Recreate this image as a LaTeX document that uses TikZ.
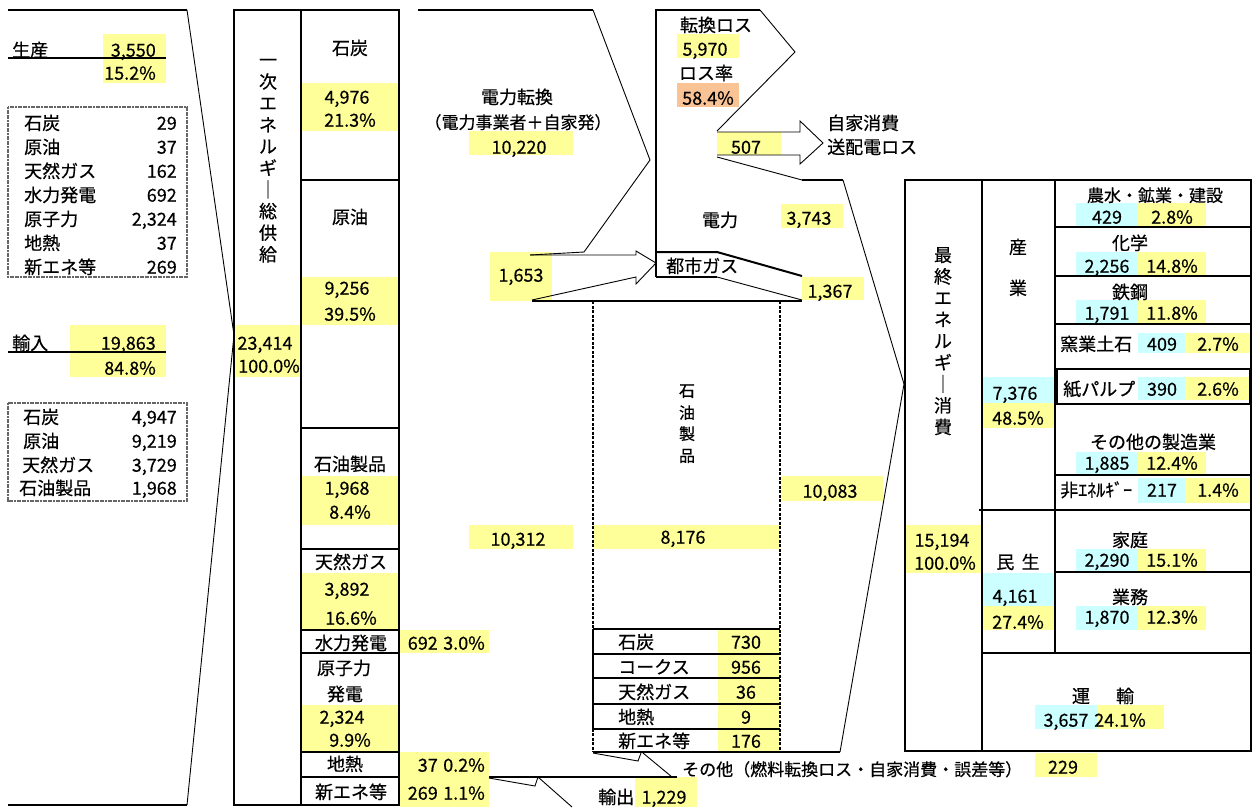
\documentclass[tikz,border=0pt]{standalone}
\usepackage{fontspec}
\setmainfont[FakeBold=0.5]{Noto Sans CJK JP}
\definecolor{yel}{HTML}{FFFF99}
\definecolor{cyn}{HTML}{CCFFFF}
\definecolor{org}{HTML}{F9C396}
\begin{document}
\begin{tikzpicture}[x=1pt,y=-1pt,
  lbl/.style={inner sep=0pt,text height=13.4pt,text depth=0pt,font=\fontsize{18}{20}\selectfont},
  lbs/.style={lbl,font=\fontsize{17}{20}\selectfont},
  lbv/.style={lbl,font=\fontsize{16}{20}\selectfont},
  thk/.style={line width=2pt},
  thn/.style={line width=0.9pt},
  dsh/.style={line width=1.6pt,dash pattern=on 3pt off 1.5pt},
  gbox/.style={draw=black!60,line width=1.5pt,dash pattern=on 2pt off 0.6pt},
]
\useasboundingbox (0,0) rectangle (1252,807);
% ---------- fills ----------
\fill[yel] (103,34) rectangle (166,83);
\fill[yel] (70,325) rectangle (166,377);
\fill[yel] (234,325) rectangle (300,377);
\fill[yel] (302,83) rectangle (398,131);
\fill[yel] (302,277) rectangle (398,325);
\fill[yel] (302,476) rectangle (398,525);
\fill[yel] (302,573) rectangle (398,630);
\fill[yel] (302,705) rectangle (398,752);
\fill[yel] (400,630) rectangle (489,653);
\fill[yel] (400,752) rectangle (489,777);
\fill[yel] (400,777) rectangle (489,807);
\fill[yel] (469,131) rectangle (573,155);
\fill[yel] (490,252) rectangle (552,301);
\fill[yel] (677,34) rectangle (739,58);
\fill[org] (677,83) rectangle (739,107);
\fill[yel] (717,132) rectangle (781,155);
\fill[yel] (781,204) rectangle (843,228);
\fill[yel] (802,277) rectangle (864,300);
\fill[yel] (781,476) rectangle (883,501);
\fill[yel] (469,525) rectangle (573,549);
\fill[yel] (594,525) rectangle (780,549);
\fill[yel] (718,629) rectangle (780,752);
\fill[yel] (1035,753) rectangle (1097,777);
\fill[yel] (635,777) rectangle (697,807);
\fill[yel] (905,525) rectangle (982,573);
\fill[cyn] (982,377) rectangle (1055,403);
\fill[yel] (982,403) rectangle (1055,428);
\fill[cyn] (982,573) rectangle (1055,606);
\fill[yel] (982,606) rectangle (1055,630);
\fill[cyn] (1076,203) rectangle (1138,227);
\fill[yel] (1138,203) rectangle (1206,227);
\fill[cyn] (1076,252) rectangle (1138,276);
\fill[yel] (1138,252) rectangle (1206,276);
\fill[cyn] (1076,300) rectangle (1138,324);
\fill[yel] (1138,300) rectangle (1206,324);
\fill[cyn] (1138,333) rectangle (1185,353);
\fill[yel] (1185,333) rectangle (1251,353);
\fill[cyn] (1138,377) rectangle (1185,400);
\fill[yel] (1185,377) rectangle (1249,400);
\fill[cyn] (1076,452) rectangle (1138,475);
\fill[yel] (1138,452) rectangle (1206,475);
\fill[cyn] (1138,478) rectangle (1185,503);
\fill[yel] (1185,478) rectangle (1251,503);
\fill[cyn] (1076,549) rectangle (1138,572);
\fill[yel] (1138,549) rectangle (1206,572);
\fill[cyn] (1076,606) rectangle (1138,630);
\fill[yel] (1138,606) rectangle (1206,630);
\fill[cyn] (1035,705) rectangle (1097,729);
\fill[yel] (1097,705) rectangle (1164,729);
% ---------- left part ----------
\draw[thk] (8,10) -- (187,10);
\draw[thk] (8,805) -- (187,805);
\draw[thn] (187,10) -- (234,335) -- (187,805);
\draw[thk] (8,58) -- (166,58);
\draw[thk] (8,352) -- (166,352);
\draw[gbox] (8,107) rectangle (187,277);
\draw[gbox] (8,403) rectangle (187,501);
% ---------- primary column ----------
\draw[thk] (234,10) rectangle (399,805);
\draw[thk] (301,10) -- (301,805);
\foreach \yy in {180,428,549,630,653,752,777} {\draw[thk] (301,\yy) -- (399,\yy);}
% ---------- power conversion ----------
\draw[thk] (418,10) -- (593,10);
\draw[thn] (593,10) -- (650,160) -- (584,252) -- (530,255);
\draw[thn] (530,255) -- (636,255) -- (636,251) -- (656,263) -- (636,284) -- (636,277) -- (532,300);
\draw[thk] (532,301) -- (802,301);
\draw[thk] (656,277) -- (656,10) -- (760,10);
\draw[thn] (760,10) -- (795,52) -- (717,131);
\draw[thn] (717,132) -- (800,132) -- (800,121) -- (823,143) -- (800,164) -- (800,155) -- (717,155);
\draw[thn] (717,157) -- (802,180);
\draw[thk] (802,180) -- (843,180);
\draw[thn] (843,180) -- (904,384) -- (840,752);
\draw[thk] (656,252) -- (717,252) -- (802,276);
\draw[thk] (656,277) -- (717,277);
\draw[thn] (717,277) -- (802,300);
% ---------- petroleum products ----------
\draw[dsh] (593,301) -- (593,752);
\draw[dsh] (780,301) -- (780,752);
\foreach \yy in {629,654,678,704,729} {\draw[thk] (593,\yy) -- (780,\yy);}
\draw[thk] (593,629) -- (593,729);
\draw[thk] (593,752) -- (840,752);
\draw[thn] (593,753) -- (638,761) -- (641,753);
\draw[thn] (643,753) -- (672,777);
\draw[thk] (489,777) -- (677,777);
\draw[thn] (489,778) -- (535,786) -- (538,777) -- (572,807);
% ---------- final consumption ----------
\draw[thk] (905,180) rectangle (1251,751);
\draw[thk] (982,180) -- (982,751);
\draw[thk] (1055,180) -- (1055,653);
\foreach \yy in {227,276,324,475,572} {\draw[thk] (1055,\yy) -- (1251,\yy);}
\draw[line width=2.6pt] (1057,369) rectangle (1250,404);
\draw[line width=1.2pt] (979,510) -- (1251,510);
\draw[thk] (982,653) -- (1251,653);
% ---------- texts: left ----------
\node[lbl,anchor=west] (seisan) at (12,50) {生産};
\node[lbl,anchor=east] (seisanv) at (156,50) {3,550};
\node[lbl,anchor=east] (seisanp) at (156,73) {15.2\%};
\foreach \nm/\vv/\yy [count=\i] in {石炭/29/123,原油/37/147,天然ガス/162/171,水力発電/692/195,原子力/{2,324}/219,地熱/37/243,新エネ等/269/267}
  {\node[lbl,anchor=west] (pa\i) at (24,\yy) {\nm};
   \node[lbl,anchor=east] (pb\i) at (177,\yy) {\vv};}
\node[lbl,anchor=west] (yunyu) at (12,343) {輸入};
\node[lbl,anchor=east] (yunyuv) at (156,343) {19,863};
\node[lbl,anchor=east] (yunyup) at (156,368) {84.8\%};
\foreach \nm/\vv/\yy/\xx [count=\i] in {石炭/{4,947}/417/23,原油/{9,219}/441/23,天然ガス/{3,729}/465/22,石油製品/{1,968}/488/19}
  {\node[lbl,anchor=west] (ia\i) at (\xx,\yy) {\nm};
   \node[lbl,anchor=east] (ib\i) at (177,\yy) {\vv};}
% ---------- texts: primary ----------
\foreach \c [count=\i] in {一,次,エ,ネ,ル,ギ,｜,総,供,給}
  {\node[lbl] (pv\i) at (268,{60+21.6*(\i-1)}) {\c};}
\node[lbl] (tot) at (265,343) {23,414};
\node[lbl] (totp) at (269,366) {100.0\%};
\node[lbl] (coal) at (350,48) {石炭};
\node[lbl] (coalv) at (347,97) {4,976};
\node[lbl] (coalp) at (350,120) {21.3\%};
\node[lbl] (oil) at (350,217) {原油};
\node[lbl] (oilv) at (347,288) {9,256};
\node[lbl] (oilp) at (350,314) {39.5\%};
\node[lbl] (prod) at (350,464) {石油製品};
\node[lbl] (prodv) at (347,488) {1,968};
\node[lbl] (prodp) at (350,512) {8.4\%};
\node[lbl] (gas) at (351,562) {天然ガス};
\node[lbl] (gasv) at (347,589) {3,892};
\node[lbl] (gasp) at (351,618) {16.6\%};
\node[lbl] (hydro) at (351,643) {水力発電};
\node[lbl] (nuc1) at (344,668) {原子力};
\node[lbl] (nuc2) at (345,694) {発電};
\node[lbl] (nucv) at (342,717) {2,324};
\node[lbl] (nucp) at (350,740) {9.9\%};
\node[lbl] (geo) at (345,764) {地熱};
\node[lbl] (new) at (351,792) {新エネ等};
\node[lbl,anchor=east] (hydv) at (438,643) {692};
\node[lbl,anchor=east] (hydp) at (485,643) {3.0\%};
\node[lbl,anchor=east] (geov) at (438,765) {37};
\node[lbl,anchor=east] (geop) at (485,765) {0.2\%};
\node[lbl,anchor=east] (newv) at (438,793) {269};
\node[lbl,anchor=east] (newp) at (485,793) {1.1\%};
% ---------- texts: power ----------
\node[lbl] (conv) at (517,97) {電力転換};
\node[lbs] (conv2) at (518,122) {（電力事業者＋自家発）};
\node[lbl] (convv) at (519,147) {10,220};
\node[lbl] (citv) at (521,275) {1,653};
\node[lbl] (loss) at (716,25) {転換ロス};
\node[lbl] (lossv) at (705,49) {5,970};
\node[lbl] (rate) at (706,73) {ロス率};
\node[lbl] (ratev) at (708,98) {58.4\%};
\node[lbl] (ownv) at (746,147) {507};
\node[lbl,anchor=west] (own1) at (827,123) {自家消費};
\node[lbl,anchor=west] (own2) at (827,147) {送配電ロス};
\node[lbl] (elec) at (720,220) {電力};
\node[lbl] (elecv) at (809,218) {3,743};
\node[lbl,anchor=west] (city) at (666,266) {都市ガス};
\node[lbl] (cityv) at (830,291) {1,367};
% ---------- texts: petroleum ----------
\foreach \c/\yy [count=\i] in {石/390,油/412,製/433,品/455}
  {\node[lbv] (sv\i) at (687,\yy) {\c};}
\node[lbl] (pin) at (518,539) {10,312};
\node[lbl] (pmid) at (683,537) {8,176};
\node[lbl] (pout) at (830,491) {10,083};
\foreach \nm/\vv/\yy [count=\i] in {石炭/730/642,コークス/956/667,天然ガス/36/692,地熱/9/717,新エネ等/176/741}
  {\node[lbl,anchor=west] (ra\i) at (618,\yy) {\nm};
   \node[lbl] (rb\i) at (746,\yy) {\vv};}
\node[lbs,anchor=west] (other) at (682,769) {その他（燃料転換ロス・自家消費・誤差等）};
\node[lbl] (otherv) at (1063,767) {229};
\node[lbl,anchor=west] (exp) at (598,797) {輸出};
\node[lbl] (expv) at (664,797) {1,229};
% ---------- texts: final ----------
\foreach \c [count=\i] in {最,終,エ,ネ,ル,ギ,｜,消,費}
  {\node[lbl] (fv\i) at (943,{255+21.5*(\i-1)}) {\c};}
\node[lbl] (fin) at (942,540) {15,194};
\node[lbl] (finp) at (945,563) {100.0\%};
\node[lbl] (ind1) at (1018,247) {産};
\node[lbl] (ind2) at (1018,288) {業};
\node[lbl] (indv) at (1015,393) {7,376};
\node[lbl] (indp) at (1018,418) {48.5\%};
\node[lbs] (agr) at (1155,195) {農水・鉱業・建設};
\node[lbl] (agrv) at (1107,217) {429};
\node[lbl] (agrp) at (1172,217) {2.8\%};
\node[lbl] (chem) at (1130,243) {化学};
\node[lbl] (chemv) at (1107,266) {2,256};
\node[lbl] (chemp) at (1172,266) {14.8\%};
\node[lbl] (steel) at (1130,292) {鉄鋼};
\node[lbl] (steelv) at (1107,313) {1,791};
\node[lbl] (steelp) at (1172,313) {11.8\%};
\node[lbl,anchor=west] (cer) at (1060,344) {窯業土石};
\node[lbl] (cerv) at (1162,344) {409};
\node[lbl] (cerp) at (1218,344) {2.7\%};
\node[lbl,anchor=west] (pap) at (1063,389) {紙パルプ};
\node[lbl] (papv) at (1162,389) {390};
\node[lbl] (papp) at (1218,389) {2.6\%};
\node[lbl] (oth) at (1153,442) {その他の製造業};
\node[lbl] (othv) at (1107,463) {1,885};
\node[lbl] (othp) at (1172,463) {12.4\%};
\node[lbl,anchor=west] (ne) at (1060,490) {非ｴﾈﾙｷﾞｰ};
\node[lbl] (nev) at (1162,490) {217};
\node[lbl] (nep) at (1218,490) {1.4\%};
\node[lbl] (res) at (1018,562) {民\hspace{0.4em}生};
\node[lbl] (resv) at (1015,596) {4,161};
\node[lbl] (resp) at (1018,622) {27.4\%};
\node[lbl] (home) at (1130,540) {家庭};
\node[lbl] (homev) at (1107,560) {2,290};
\node[lbl] (homep) at (1172,560) {15.1\%};
\node[lbl] (com) at (1130,597) {業務};
\node[lbl] (comv) at (1107,617) {1,870};
\node[lbl] (comp) at (1172,617) {12.3\%};
\node[lbl] (tra) at (1103,696) {運\hspace{1.45em}輸};
\node[lbl] (trav) at (1066,720) {3,657};
\node[lbl] (trap) at (1120,720) {24.1\%};
\end{tikzpicture}
\end{document}
